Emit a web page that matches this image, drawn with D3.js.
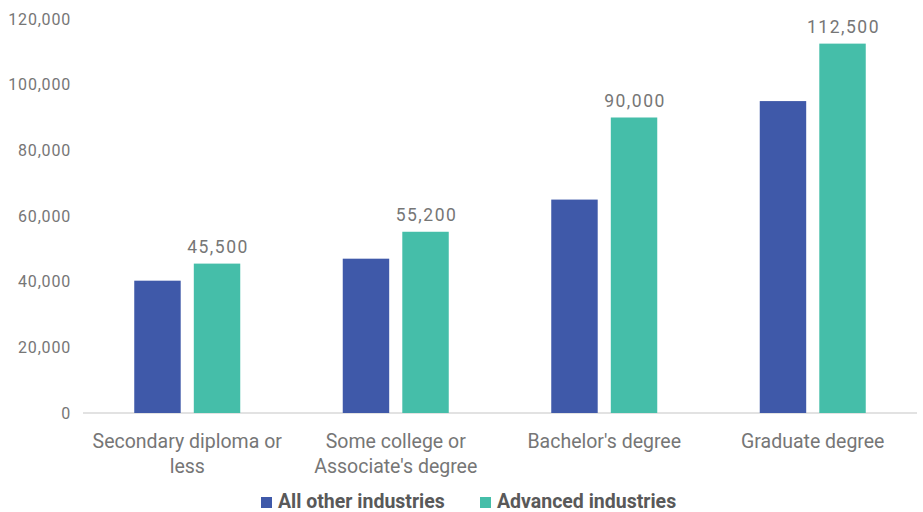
<!DOCTYPE html>
<html lang="en">

<head>
    <script src="https://cdnjs.cloudflare.com/ajax/libs/d3/7.8.5/d3.min.js"></script>
    <style>
        body { margin: 0; background: #fff; }
    </style>
</head>

<body>
    <script>
        var w = 923;
        var h = 512;

        var categories = [
            ["Secondary diploma or", "less"],
            ["Some college or", "Associate's degree"],
            ["Bachelor's degree"],
            ["Graduate degree"]
        ];
        var seriesNames = ["All other industries", "Advanced industries"];
        var allOther = [40300, 47000, 65000, 95000];
        var advanced = [45500, 55200, 90000, 112500];
        var yTicks = [0, 20000, 40000, 60000, 80000, 100000, 120000];

        var colors = ["#3f59a9", "#45bea9"];
        var textColor = "#767676";

        var svg = d3.select("body").append("svg")
            .attr("width", w)
            .attr("height", h)
            .style("font-family", "Roboto, sans-serif");

        var x = d3.scaleBand()
            .domain(d3.range(categories.length))
            .range([83, 917]);

        var inner = d3.scaleBand()
            .domain([0, 1])
            .range([x.bandwidth() / 2 - 53, x.bandwidth() / 2 + 53])
            .paddingInner(0.22);

        var y = d3.scaleLinear()
            .domain([0, 120000])
            .range([413, 19]);

        // y axis labels only, no line
        var yAxis = svg.append("g")
            .attr("transform", "translate(79,0)")
            .call(d3.axisLeft(y).tickValues(yTicks).tickFormat(d3.format(",")).tickSize(0).tickPadding(8));
        yAxis.select(".domain").remove();
        yAxis.selectAll("text")
            .attr("fill", textColor)
            .style("font-size", "16px")
            .style("letter-spacing", "0.8px")
            .style("font-family", "Roboto, sans-serif");

        // baseline
        svg.append("line")
            .attr("x1", 83).attr("x2", 917)
            .attr("y1", y(0)).attr("y2", y(0))
            .attr("stroke", "#d9d9d9")
            .attr("stroke-width", 1.5);

        var data = [allOther, advanced];

        data.forEach(function (vals, s) {
            svg.append("g").selectAll("rect")
                .data(vals)
                .enter()
                .append("rect")
                .attr("x", (d, i) => x(i) + inner(s))
                .attr("width", inner.bandwidth())
                .attr("y", d => y(d))
                .attr("height", d => y(0) - y(d))
                .attr("fill", colors[s]);
        });

        // value labels on advanced industries
        svg.append("g").selectAll("text")
            .data(advanced)
            .enter()
            .append("text")
            .attr("x", (d, i) => x(i) + inner(1) + inner.bandwidth() / 2 + 1)
            .attr("y", d => y(d) - 11)
            .attr("text-anchor", "middle")
            .attr("fill", textColor)
            .style("font-size", "17.5px")
            .style("letter-spacing", "1.5px")
            .text(d => d3.format(",")(d));

        // category labels
        var cat = svg.append("g").selectAll("text")
            .data(categories)
            .enter()
            .append("text")
            .attr("x", (d, i) => x(i) + x.bandwidth() / 2)
            .attr("y", 448)
            .attr("text-anchor", "middle")
            .attr("fill", textColor)
            .style("font-size", "19.5px");
        cat.selectAll("tspan")
            .data(d => d)
            .enter()
            .append("tspan")
            .attr("x", function () { return d3.select(this.parentNode).attr("x"); })
            .attr("dy", (d, i) => i === 0 ? 0 : 25)
            .text(d => d);

        // legend
        var legendX = [261, 480];
        var legend = svg.append("g").selectAll("g")
            .data(seriesNames)
            .enter()
            .append("g")
            .attr("transform", (d, i) => "translate(" + legendX[i] + ",497)");
        legend.append("rect")
            .attr("width", 11).attr("height", 11)
            .attr("fill", (d, i) => colors[i]);
        legend.append("text")
            .attr("x", 17)
            .attr("y", 11)
            .attr("fill", "#595959")
            .style("font-size", "19.5px")
            .style("font-weight", "bold")
            .text(d => d);
    </script>
</body>

</html>
